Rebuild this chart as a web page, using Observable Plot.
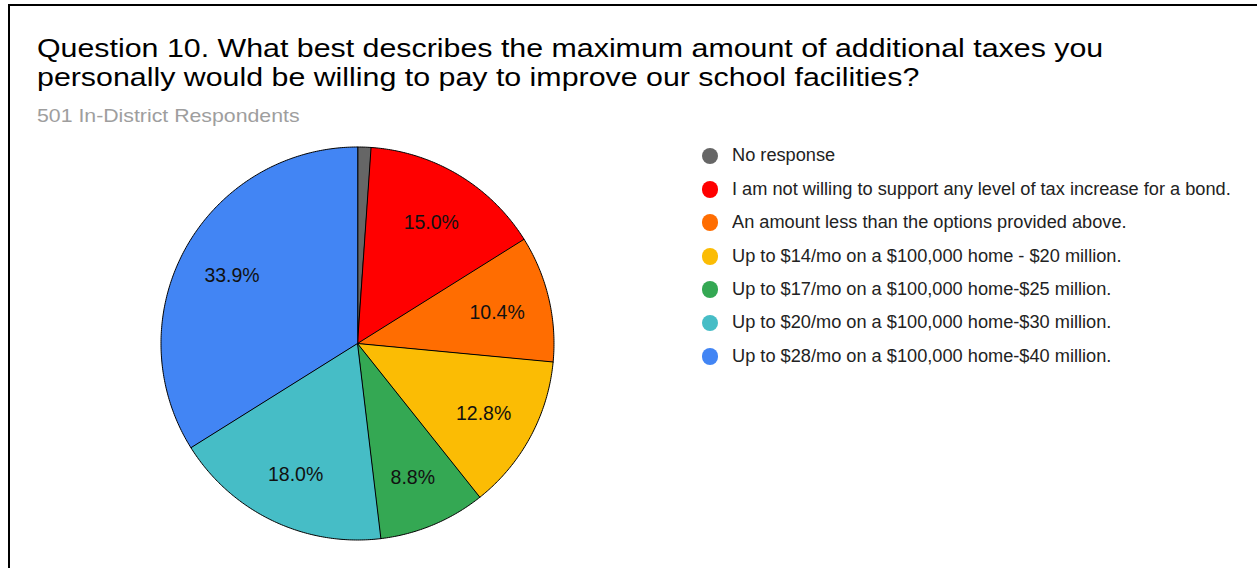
<!DOCTYPE html>
<html>
<head>
<meta charset="utf-8">
<script src="https://cdn.jsdelivr.net/npm/d3@7"></script>
<script src="https://cdn.jsdelivr.net/npm/@observablehq/plot@0.6"></script>
<style>
  html, body { margin: 0; padding: 0; background: #fff; overflow: hidden; }
  body { width: 1257px; height: 568px; position: relative; font-family: "Liberation Sans", Arial, sans-serif; }
  #frame { position: absolute; left: 8px; top: 4px; width: 1400px; height: 700px; border-left: 2px solid #000; border-top: 2px solid #000; box-sizing: border-box; }
  #title { position: absolute; left: 37px; top: 34.4px; font-size: 25px; line-height: 28.4px; color: #000; white-space: nowrap; transform: scaleX(1.214); transform-origin: 0 0; }
  #subtitle { position: absolute; left: 37px; top: 106.6px; font-size: 18.5px; line-height: 18.5px; color: #9e9e9e; white-space: nowrap; transform: scaleX(1.15); transform-origin: 0 0; }
  #pie { position: absolute; left: 147px; top: 133px; }
  #legend { position: absolute; left: 701.7px; top: 139.3px; }
  .item { display: flex; align-items: center; height: 33.4px; font-size: 17.5px; color: #222; white-space: nowrap; }
  .sw { width: 16.7px; height: 16.7px; border-radius: 50%; margin-right: 14px; flex: none; }
  .tx { display: inline-block; transform: scaleX(1.04); transform-origin: 0 50%; }
</style>
</head>
<body>
<div id="frame"></div>
<div id="title">Question 10. What best describes the maximum amount of additional taxes you<br>personally would be willing to pay to improve our school facilities?</div>
<div id="subtitle">501 In-District Respondents</div>
<div id="pie"></div>
<div id="legend"></div>
<script>
const categories = [
  "No response",
  "I am not willing to support any level of tax increase for a bond.",
  "An amount less than the options provided above.",
  "Up to $14/mo on a $100,000 home - $20 million.",
  "Up to $17/mo on a $100,000 home-$25 million.",
  "Up to $20/mo on a $100,000 home-$30 million.",
  "Up to $28/mo on a $100,000 home-$40 million."
];
const percents = [1.1, 15.0, 10.4, 12.8, 8.8, 18.0, 33.9];
const colors = ["#666666", "#ff0000", "#ff6d01", "#fbbc04", "#34a853", "#46bdc6", "#4285f4"];

const data = categories.map((name, i) => ({name, value: percents[i]}));
const arcs = d3.pie().sort(null).value(d => d.value)(data);

// Slice outlines: centre + points along each arc (angles from d3.pie)
const outline = [];
for (const a of arcs) {
  outline.push({name: a.data.name, x: 0, y: 0});
  const n = Math.max(2, Math.ceil((a.endAngle - a.startAngle) / 0.01));
  for (let k = 0; k <= n; k++) {
    const t = a.startAngle + (a.endAngle - a.startAngle) * k / n;
    outline.push({name: a.data.name, x: Math.sin(t), y: Math.cos(t)});
  }
}
const labels = arcs.filter(a => a.data.value >= 5).map(a => {
  const t = (a.startAngle + a.endAngle) / 2;
  return {label: a.data.value.toFixed(1) + "%", x: 0.73 * Math.sin(t), y: 0.73 * Math.cos(t)};
});

const R = 196.5, C = 210;
const chart = Plot.plot({
  width: 420, height: 420,
  margin: 0,
  x: {domain: [-1, 1], range: [C - R, C + R], axis: null},
  y: {domain: [-1, 1], range: [C + R, C - R], axis: null},
  color: {domain: categories, range: colors},
  style: {fontFamily: "'Liberation Sans', Arial, sans-serif", background: "transparent"},
  marks: [
    Plot.line(outline, {x: "x", y: "y", z: "name", fill: "name", stroke: "#000", strokeWidth: 1, curve: "linear-closed", strokeLinejoin: "round"}),
    Plot.text(labels, {x: "x", y: "y", text: "label", fontSize: 19.5, dy: 2, fill: "#111", stroke: null})
  ]
});
document.getElementById("pie").appendChild(chart);

const legend = document.getElementById("legend");
categories.forEach((c, i) => {
  const row = document.createElement("div");
  row.className = "item";
  const sw = document.createElement("span");
  sw.className = "sw";
  sw.style.background = colors[i];
  const tx = document.createElement("span");
  tx.className = "tx";
  tx.textContent = c;
  row.appendChild(sw); row.appendChild(tx);
  legend.appendChild(row);
});
</script>
</body>
</html>
